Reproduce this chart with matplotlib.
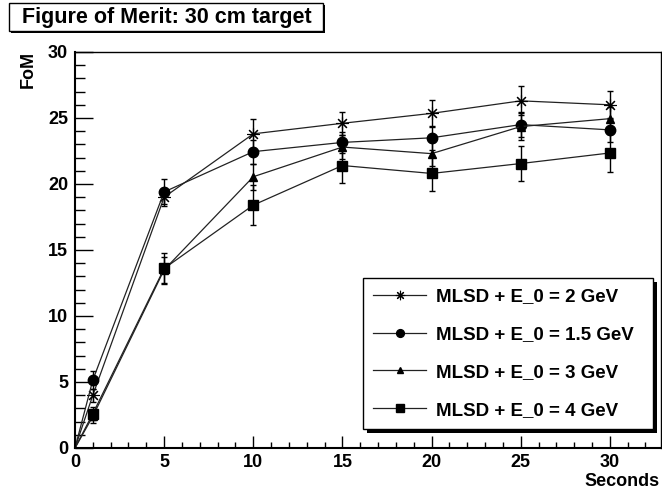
import matplotlib
matplotlib.use("Agg")
import matplotlib.pyplot as plt
from matplotlib.patches import Rectangle
from matplotlib.ticker import MultipleLocator

plt.rcParams['font.family'] = ['Liberation Sans', 'DejaVu Sans']
plt.rcParams['font.weight'] = 'bold'

# FoM vs. exposure time for each energy threshold
seconds = [0, 1, 5, 10, 15, 20, 25, 30]

fom_2gev = [0, 4.0, 19.0, 23.8, 24.6, 25.35, 26.3, 26.0]
err_2gev = [0, 0.5, 0.7, 1.1, 0.85, 1.0, 1.1, 1.05]

fom_15gev = [0, 5.15, 19.4, 22.45, 23.15, 23.5, 24.5, 24.1]
err_15gev = [0, 0.7, 0.95, 0.9, 0.8, 0.9, 0.95, 0.9]

fom_3gev = [0, 2.4, 13.5, 20.55, 22.8, 22.3, 24.35, 24.95]
err_3gev = [0, 0.5, 1.0, 1.0, 0.9, 0.9, 1.0, 0.9]

fom_4gev = [0, 2.6, 13.6, 18.4, 21.4, 20.8, 21.55, 22.35]
err_4gev = [0, 0.5, 1.2, 1.5, 1.35, 1.3, 1.3, 1.45]

labels = ['MLSD + E_0 = 2 GeV', 'MLSD + E_0 = 1.5 GeV',
          'MLSD + E_0 = 3 GeV', 'MLSD + E_0 = 4 GeV']

W, H = 662, 495
fig = plt.figure(figsize=(W / 100, H / 100), dpi=100)
ax = fig.add_axes([75 / W, 1 - 448 / H, (661 - 75) / W, (448 - 52) / H])

series = [
    (fom_2gev, err_2gev, dict(marker=(8, 2, 0), markersize=9, markeredgewidth=0.8)),
    (fom_15gev, err_15gev, dict(marker='o', markersize=7.5)),
    (fom_3gev, err_3gev, dict(marker='^', markersize=6)),
    (fom_4gev, err_4gev, dict(marker='s', markersize=7.5)),
]

for (y, e, mk), lab in zip(series, labels):
    ax.errorbar(seconds, y, yerr=e, fmt='none', ecolor='black',
                elinewidth=1.0, capsize=2.5, capthick=1.0, errorevery=(1, 1))
    ax.plot(seconds, y, color='#222222', linewidth=0.9,
            markerfacecolor='black', markeredgecolor='black',
            markevery=slice(1, None), label=lab, **mk)

ax.set_xlim(0, 32.87)
ax.set_ylim(0, 30)
ax.xaxis.set_major_locator(MultipleLocator(5))
ax.xaxis.set_minor_locator(MultipleLocator(1))
ax.yaxis.set_major_locator(MultipleLocator(5))
ax.yaxis.set_minor_locator(MultipleLocator(1))
ax.tick_params(axis='x', which='major', direction='in', length=8.5, width=1.0,
               labelsize=13, pad=4, top=False)
ax.tick_params(axis='x', which='minor', direction='in', length=4, width=1.0, top=False)
ax.tick_params(axis='y', which='major', direction='in', length=13, width=1.0,
               labelsize=13, pad=5, right=False)
ax.tick_params(axis='y', which='minor', direction='in', length=7, width=1.0, right=False)
for lbl in ax.get_xticklabels() + ax.get_yticklabels():
    lbl.set_fontweight('bold')
ax.spines['left'].set_linewidth(1.5)
ax.spines['bottom'].set_linewidth(1.5)
ax.spines['top'].set_linewidth(1.0)
ax.spines['right'].set_linewidth(1.0)

fig.text(28 / W, 1 - 69 / H, 'FoM', rotation=90, ha='center', va='center',
         fontsize=13, fontweight='bold')
fig.text(660 / W, 1 - 482 / H, 'Seconds', ha='right', va='center',
         fontsize=13, fontweight='bold')

# legend box with a solid drop shadow
leg = ax.legend(loc='upper left', bbox_to_anchor=(363 / W, 1 - 432 / H, 290 / W, 154 / H),
                bbox_transform=fig.transFigure, mode='expand', borderaxespad=0,
                frameon=True, fancybox=False, edgecolor='black', framealpha=1,
                prop={'size': 13.5, 'weight': 'bold'}, handlelength=2.8,
                handletextpad=0.55, labelspacing=1.1, borderpad=0.55,
                markerscale=0.75)
leg.get_frame().set_linewidth(1.0)
leg.set_zorder(6)

fig.canvas.draw()
bb = leg.get_window_extent().transformed(fig.transFigure.inverted())
ax.add_patch(Rectangle((bb.x0 + 4 / W, bb.y0 - 4 / H), bb.width, bb.height,
                       transform=fig.transFigure, facecolor='black',
                       edgecolor='none', zorder=5.5, clip_on=False))

# title box in the top-left corner
fig.patches.append(Rectangle((11 / W, 1 - 33 / H), 314 / W, 28 / H,
                             transform=fig.transFigure, facecolor='black',
                             edgecolor='none', zorder=1))
fig.patches.append(Rectangle((9 / W, 1 - 31 / H), 314 / W, 28 / H,
                             transform=fig.transFigure, facecolor='white',
                             edgecolor='black', linewidth=1.0, zorder=2))
fig.text(22 / W, 1 - 17 / H, 'Figure of Merit: 30 cm target', ha='left', va='center',
         fontsize=15.5, fontweight='bold', zorder=3)

fig.savefig('out.png', dpi=100)
